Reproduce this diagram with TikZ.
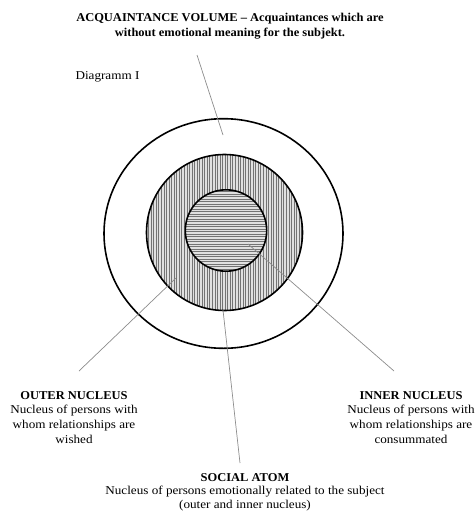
\documentclass[tikz,border=0pt]{standalone}
\usepackage{fontspec}
\setmainfont{Liberation Serif}[FakeStretch=1.095,BoldFeatures={FakeStretch=1.04}]
\begin{document}
\begin{tikzpicture}[x=1pt,y=-1pt,
  ring/.style={line width=1.6pt,black},
  leader/.style={line width=0.7pt,black!45},
  hatch/.style={line width=0.6pt,black!55},
  lbl/.style={inner sep=0pt,align=center,font=\fontsize{12}{14.8}\selectfont},
  ttl/.style={inner sep=0pt,align=center,font=\fontsize{12}{15}\selectfont\bfseries}]
\useasboundingbox (0,0) rectangle (475,512);
% middle annulus: vertical hatching
\fill[black!12] (224.5,232.5) circle (78);
\begin{scope}
  \clip (224.5,232.5) circle (78);
  \foreach \i in {0,...,62} {\draw[hatch] (146+\i*2.55,150) -- (146+\i*2.55,315);}
\end{scope}
% inner circle: horizontal hatching
\fill[black!12] (226,230.5) circle (40.7);
\begin{scope}
  \clip (226,230.5) circle (40.7);
  \foreach \i in {0,...,33} {\draw[hatch] (180,189+\i*2.5) -- (272,189+\i*2.5);}
\end{scope}
% circles
\draw[ring] (223.5,233.5) ellipse [x radius=119.5, y radius=114.8];
\draw[ring] (224.5,232.5) circle (78);
\draw[ring] (226,230.5) circle (40.7);
% texts
\node[ttl,anchor=north] (title) at (230,13) {ACQUAINTANCE VOLUME -- Acquaintances which are\\without emotional meaning for the subjekt.};
\node[lbl,anchor=north] (diag) at (107.5,71) {Diagramm I};
\node[lbl,anchor=north] (outer) at (74,391) {\textbf{OUTER NUCLEUS}\\Nucleus of persons with\\whom relationships are\\wished};
\node[lbl,anchor=north] (inner) at (411,391) {\textbf{INNER NUCLEUS}\\Nucleus of persons with\\whom relationships are\\consummated};
\node[lbl,anchor=north,font=\fontsize{12}{13.6}\selectfont] (atom) at (245,473) {\textbf{SOCIAL ATOM}\\Nucleus of persons emotionally related to the subject\\(outer and inner nucleus)};
% leader lines
\coordinate (acqS) at (197,55);
\coordinate (acqE) at (223,135);
\coordinate (outS) at (176,278);
\coordinate (outE) at (79,371);
\coordinate (inS) at (248,244);
\coordinate (inE) at (394,371);
\coordinate (atS) at (223,310);
\coordinate (atE) at (240,463);
\draw[leader] (acqS) -- (acqE);
\draw[leader] (outS) -- (outE);
\draw[leader] (inS) -- (inE);
\draw[leader] (atS) -- (atE);
\end{tikzpicture}
\end{document}
